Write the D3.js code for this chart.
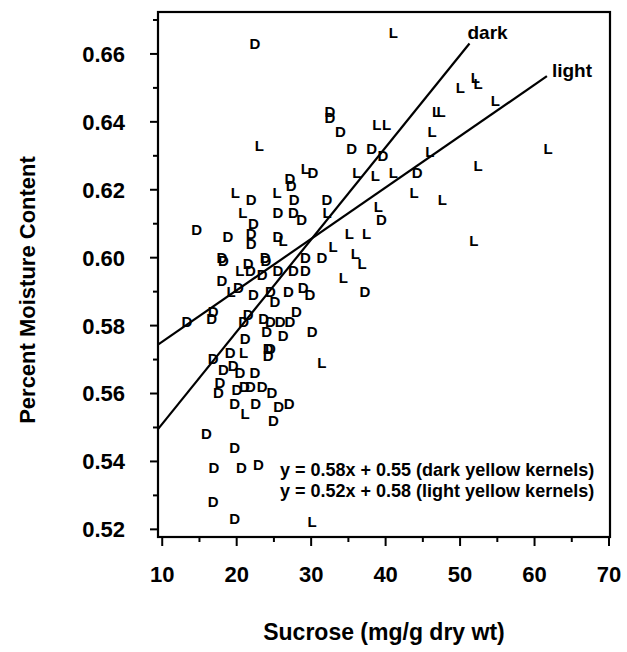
<!DOCTYPE html>
<html><head><meta charset="utf-8">
<script src="https://cdn.jsdelivr.net/npm/d3@7/dist/d3.min.js"></script>
<style>
body{margin:0;background:#fff}
svg{display:block;background:#fff}
text{font-family:"Liberation Sans",Arial,Helvetica,sans-serif;font-weight:bold;fill:#000}
text.mk{font-family:"Liberation Sans Narrow","Arial Narrow","Liberation Sans",Arial,sans-serif}
</style>
</head><body><svg id="c" width="627" height="652"></svg>
<script>
// ---- data ----
const darkX = [22.5,32.6,32.6,34.0,35.5,38.2,39.7,30.3,27.2,27.4,22.0,32.2,44.3,39.5,27.8,25.6,27.7,28.8,22.3,22.0,22.0,18.9,14.7,25.6,18.1,18.3,21.6,23.9,24.0,29.3,31.5,21.9,23.5,25.6,27.7,29.3,18.1,20.3,22.3,24.6,25.2,27.0,29.0,29.9,28.1,21.6,21.0,23.7,24.6,25.9,27.2,24.1,26.3,30.2,21.2,24.6,13.4,16.7,16.9,16.9,19.2,24.3,24.3,18.3,19.6,20.5,22.5,17.8,17.6,20.1,21.1,21.9,23.5,24.8,19.8,22.6,25.7,27.1,25.0,16.0,19.8,17.0,20.7,23.0,16.9,19.8,37.3];
const darkY = [0.663,0.643,0.641,0.637,0.632,0.632,0.630,0.625,0.623,0.621,0.617,0.617,0.625,0.611,0.617,0.613,0.613,0.611,0.610,0.607,0.604,0.606,0.608,0.606,0.600,0.599,0.598,0.600,0.599,0.600,0.600,0.596,0.595,0.596,0.596,0.596,0.593,0.591,0.589,0.590,0.587,0.590,0.591,0.589,0.584,0.583,0.581,0.582,0.581,0.581,0.581,0.578,0.577,0.578,0.576,0.573,0.581,0.582,0.584,0.570,0.572,0.573,0.571,0.567,0.568,0.566,0.566,0.563,0.560,0.561,0.562,0.562,0.562,0.560,0.557,0.557,0.556,0.557,0.552,0.548,0.544,0.538,0.538,0.539,0.528,0.523,0.590];
const lightX = [23.1,38.9,40.2,36.2,38.7,29.3,19.9,25.5,41.1,50.1,52.1,52.5,46.9,47.5,46.3,46.0,54.8,61.9,52.5,41.1,43.9,47.7,51.9,32.2,39.1,35.2,37.5,33.0,36.0,36.9,34.4,20.9,26.3,20.5,19.3,31.5,21.0,21.2,30.2];
const lightY = [0.633,0.639,0.639,0.625,0.624,0.626,0.619,0.619,0.666,0.650,0.653,0.651,0.643,0.643,0.637,0.631,0.646,0.632,0.627,0.625,0.619,0.617,0.605,0.613,0.615,0.607,0.607,0.603,0.601,0.598,0.594,0.613,0.605,0.596,0.590,0.569,0.572,0.554,0.522];
const fitNames = ["dark","light"];
const fitSlopes = [0.002714, 0.001513];
const fitIntercepts = [0.5236, 0.5599];
const fitStart = [9.5, 9.5];
const fitEnd = [51.33, 61.73];
const equations = ["y = 0.58x + 0.55 (dark yellow kernels)", "y = 0.52x + 0.58 (light yellow kernels)"];
const xMajorTicks = [10,20,30,40,50,60,70];
const xMinorTicks = [15,25,35,45,55,65];
const yMajorTicks = [0.52,0.54,0.56,0.58,0.60,0.62,0.64,0.66];
const yMinorTicks = [0.53,0.55,0.57,0.59,0.61,0.63,0.65,0.67];
const xTitle = "Sucrose (mg/g dry wt)";
const yTitle = "Percent Moisture Content";

// ---- layout ----
const L = 158, T = 12, W = 452, H = 525;
const svg = d3.select("#c");
const x = d3.scaleLinear().domain([9.5, 70.2]).range([L, L + W]);
const y = d3.scaleLinear().domain([0.5176, 0.6722]).range([T + H, T]);

// axes
const gxMin = svg.append("g").attr("transform", `translate(0,${T+H})`)
  .call(d3.axisBottom(x).tickValues(xMinorTicks).tickSize(5).tickFormat(""));
const gx = svg.append("g").attr("transform", `translate(0,${T+H})`)
  .call(d3.axisBottom(x).tickValues(xMajorTicks).tickSize(9).tickPadding(20).tickFormat(d3.format("d")));
const gyMin = svg.append("g").attr("transform", `translate(${L},0)`)
  .call(d3.axisLeft(y).tickValues(yMinorTicks).tickSize(5).tickFormat(""));
const gy = svg.append("g").attr("transform", `translate(${L},0)`)
  .call(d3.axisLeft(y).tickValues(yMajorTicks).tickSize(8).tickPadding(25).tickFormat(d3.format(".2f")));
[gxMin, gx, gyMin, gy].forEach(g => {
  g.select(".domain").remove();
  g.selectAll("line").attr("stroke", "#000").attr("stroke-width", 2);
  g.selectAll("text").style("font-size", "22px").attr("fill", "#000");
});
gy.selectAll("text").attr("dy", "0.36em");

// frame
svg.append("rect").attr("x", L).attr("y", T).attr("width", W).attr("height", H)
  .attr("fill", "none").attr("stroke", "#000").attr("stroke-width", 2.2);

// fit lines
fitNames.forEach((n, i) => {
  const x0 = fitStart[i], x1 = fitEnd[i];
  const f = v => fitIntercepts[i] + fitSlopes[i] * v;
  svg.append("line").attr("x1", x(x0)).attr("y1", y(f(x0))).attr("x2", x(x1)).attr("y2", y(f(x1)))
    .attr("stroke", "#000").attr("stroke-width", 2.2);
});
// line labels
{
  const fd = v => fitIntercepts[0] + fitSlopes[0] * v;
  const fl = v => fitIntercepts[1] + fitSlopes[1] * v;
  svg.append("text").attr("x", x(fitEnd[0]) - 2).attr("y", y(fd(fitEnd[0])) - 5)
    .style("font-size", "19px").text(fitNames[0]);
  svg.append("text").attr("x", x(fitEnd[1]) + 5).attr("y", y(fl(fitEnd[1])) + 1)
    .style("font-size", "19px").text(fitNames[1]);
}

// points
const pts = svg.append("g");
pts.selectAll("text.d").data(darkX.map((v, i) => [v, darkY[i]])).join("text")
  .attr("class", "mk d").attr("x", d => x(d[0])).attr("y", d => y(d[1])).attr("dy", "0.36em")
  .attr("text-anchor", "middle").style("font-size", "15px").text("D");
pts.selectAll("text.l").data(lightX.map((v, i) => [v, lightY[i]])).join("text")
  .attr("class", "mk l").attr("x", d => x(d[0])).attr("y", d => y(d[1])).attr("dy", "0.36em")
  .attr("text-anchor", "middle").style("font-size", "15px").text("L");

// equations
equations.forEach((e, i) => {
  svg.append("text").attr("x", 280).attr("y", 476 + i * 21).style("font-size", "18px").text(e);
});

// titles
svg.append("text").attr("x", L + W / 2).attr("y", 640).attr("text-anchor", "middle")
  .style("font-size", "23px").text(xTitle);
svg.append("text").attr("transform", "translate(35,290) rotate(-90)").attr("text-anchor", "middle")
  .style("font-size", "22px").text(yTitle);
</script>
</body></html>
